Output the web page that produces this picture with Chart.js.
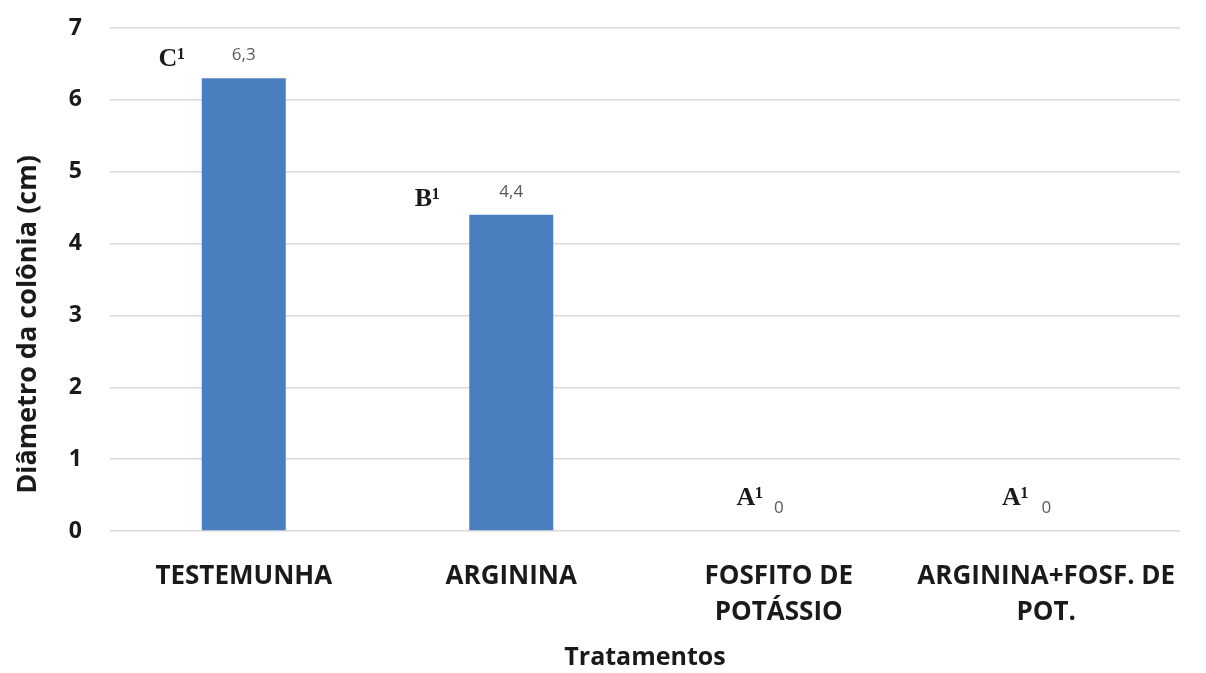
<!DOCTYPE html>
<html>
<head>
<meta charset="utf-8">
<script src="https://cdn.jsdelivr.net/npm/chart.js@4/dist/chart.umd.min.js"></script>
<style>
  html, body { margin: 0; padding: 0; background: #ffffff; }
  #wrap { width: 1206px; height: 673px; position: relative; }
</style>
</head>
<body>
<div id="wrap"><canvas id="c" width="1206" height="673"></canvas></div>
<script>
// Treatments and measured colony diameter (cm)
const categories = [
  'TESTEMUNHA',
  'ARGININA',
  ['FOSFITO DE', 'POTÁSSIO'],
  ['ARGININA+FOSF. DE', 'POT.']
];
const diameters = [6.3, 4.4, 0, 0];
const valueLabels = ['6,3', '4,4', '0', '0'];
const groupLetters = ['C', 'B', 'A', 'A'];
const yTicks = [0, 1, 2, 3, 4, 5, 6, 7];
const yTitle = 'Diâmetro da colônia (cm)';

// Statistical letters sit to the upper left of each bar
const letterOffsets = [
  { dx: -72, dy: -19 },
  { dx: -84, dy: -16 },
  { dx: -29, dy: -33 },
  { dx: -31, dy: -33 }
];

const labelPlugin = {
  id: 'barLabels',
  afterDatasetsDraw(chart) {
    const ctx = chart.ctx;
    const meta = chart.getDatasetMeta(0);
    const y = chart.scales.y;
    ctx.save();
    meta.data.forEach((bar, i) => {
      const top = y.getPixelForValue(diameters[i]);
      // value label
      ctx.font = '17px "Open Sans"';
      ctx.fillStyle = '#595959';
      ctx.textAlign = 'center';
      ctx.textBaseline = 'middle';
      ctx.fillText(valueLabels[i], bar.x, top - 23);
      // group letter with superscript
      const off = letterOffsets[i];
      ctx.font = 'bold 26px "Liberation Serif"';
      ctx.fillStyle = '#1a1a1a';
      ctx.fillText(groupLetters[i] + '\u00B9', bar.x + off.dx, top + off.dy);
    });
    ctx.restore();
  }
};

// Vertical axis title, set a little below the middle of the axis
const yTitlePlugin = {
  id: 'yTitle',
  afterDraw(chart) {
    const ctx = chart.ctx;
    const area = chart.chartArea;
    ctx.save();
    ctx.translate(28, (area.top + area.bottom) / 2 + 45);
    ctx.rotate(-Math.PI / 2);
    ctx.font = 'bold 27px "Open Sans"';
    ctx.fillStyle = '#1a1a1a';
    ctx.textAlign = 'center';
    ctx.textBaseline = 'middle';
    ctx.fillText(yTitle, 0, 0);
    ctx.restore();
  }
};

new Chart(document.getElementById('c'), {
  type: 'bar',
  data: {
    labels: categories,
    datasets: [{
      data: diameters,
      backgroundColor: '#4a7ebe',
      borderWidth: 0,
      categoryPercentage: 1.0,
      barPercentage: 0.314
    }]
  },
  options: {
    responsive: false,
    animation: false,
    devicePixelRatio: 1,
    layout: { padding: { top: 28, right: 26, left: 0, bottom: 0 } },
    plugins: {
      legend: { display: false },
      tooltip: { enabled: false }
    },
    scales: {
      x: {
        grid: { display: false },
        border: { display: false },
        ticks: {
          color: '#1a1a1a',
          font: { family: '"Open Sans"', size: 26, weight: 'bold', lineHeight: 1.38 },
          padding: 20,
          maxRotation: 0,
          autoSkip: false
        },
        title: {
          display: true,
          text: 'Tratamentos',
          color: '#1a1a1a',
          font: { family: '"Open Sans"', size: 25, weight: 'bold' },
          padding: { top: 2, bottom: 0 }
        },
        afterFit(scale) { scale.height = 142; }
      },
      y: {
        min: 0,
        max: 7,
        afterBuildTicks(scale) { scale.ticks = yTicks.map(v => ({ value: v })); },
        grid: { color: '#d9d9d9', lineWidth: 1.5, drawTicks: false },
        border: { display: false },
        ticks: {
          color: '#1a1a1a',
          font: { family: '"Open Sans"', size: 23, weight: 'bold' },
          padding: 28
        },
        afterFit(scale) {
          scale.width = 110;
          scale.paddingTop = 0;
          scale.paddingBottom = 0;
        }
      }
    }
  },
  plugins: [labelPlugin, yTitlePlugin]
});
</script>
</body>
</html>
